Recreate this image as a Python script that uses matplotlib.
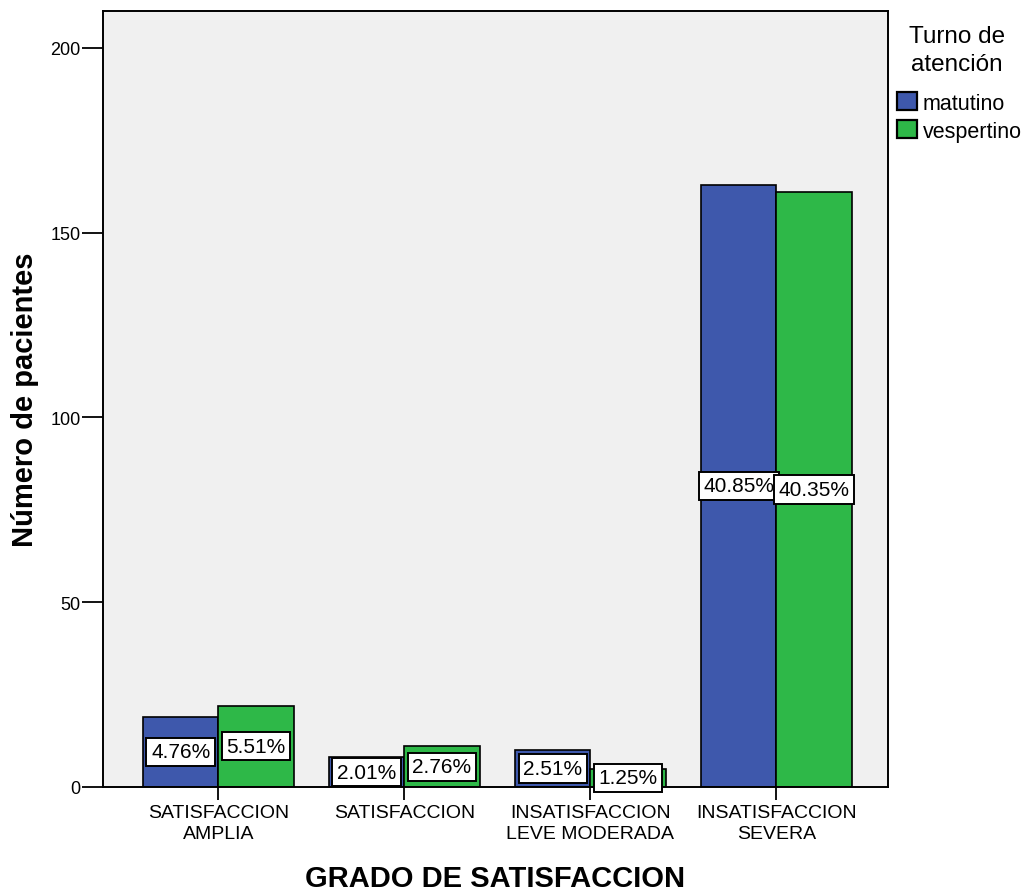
import numpy as np
import matplotlib
matplotlib.use("Agg")
import matplotlib.pyplot as plt
from matplotlib.patches import Patch

# Patients per satisfaction grade and shift
categories = ["SATISFACCION\nAMPLIA", "SATISFACCION", "INSATISFACCION\nLEVE MODERADA", "INSATISFACCION\nSEVERA"]
turnos = ["matutino", "vespertino"]
matutino = [19, 8, 10, 163]
vespertino = [22, 11, 5, 161]
colors = ["#3e58ac", "#2eb848"]

plt.rcParams["font.family"] = ["Liberation Sans", "DejaVu Sans"]

fig = plt.figure(figsize=(10.25, 8.95), dpi=100)
ax = fig.add_axes([103 / 1025, 1 - 788 / 895, (888 - 103) / 1025, (788 - 12) / 895])
ax.set_facecolor("#f0f0f0")

total = sum(matutino) + sum(vespertino)
x = np.arange(len(categories))
width = 0.405
series = [matutino, vespertino]
for i, (vals, col) in enumerate(zip(series, colors)):
    pos = x + (i - 0.5) * width
    ax.bar(pos, vals, width=width, color=col, edgecolor="black", linewidth=1.2, zorder=2)
    for px, v in zip(pos, vals):
        ax.text(px, v / 2, f"{100 * v / total:.2f}%", ha="center", va="center",
                fontsize=15, zorder=3,
                bbox=dict(boxstyle="square,pad=0.22", facecolor="white",
                          edgecolor="black", linewidth=1.4))

ax.set_xlim(-0.62, 3.60)
ax.set_ylim(0, 210)
ax.set_yticks([0, 50, 100, 150, 200])
ax.set_xticks(x)
ax.set_xticklabels(categories, fontsize=14, linespacing=1.3)
ax.tick_params(axis="y", length=15, width=1.3, pad=1, labelsize=13)
ax.tick_params(axis="x", length=9.5, width=1.3, pad=3)

for s in ax.spines.values():
    s.set_linewidth(1.4)

ax.set_ylabel("Número de pacientes", fontsize=21, fontweight="bold", labelpad=8)
ax.set_xlabel("GRADO DE SATISFACCION", fontsize=21, fontweight="bold", labelpad=16)

# Legend: centred two-line title above the colour keys
fig.text(957 / 1025, 1 - 51 / 895, "Turno de\natención", ha="center", va="center",
         fontsize=17.5, linespacing=1.3)
handles = [Patch(facecolor=c, edgecolor="black", linewidth=1.6, label=t)
           for c, t in zip(colors, turnos)]
leg = fig.legend(handles=handles, loc="upper left",
                 bbox_to_anchor=(895 / 1025, 1 - 91 / 895), frameon=False,
                 fontsize=15.5, handlelength=0.93, handleheight=0.93,
                 handletextpad=0.25, labelspacing=0.3, borderaxespad=0, borderpad=0.1)

fig.savefig("out.png", dpi=100, facecolor="white")
